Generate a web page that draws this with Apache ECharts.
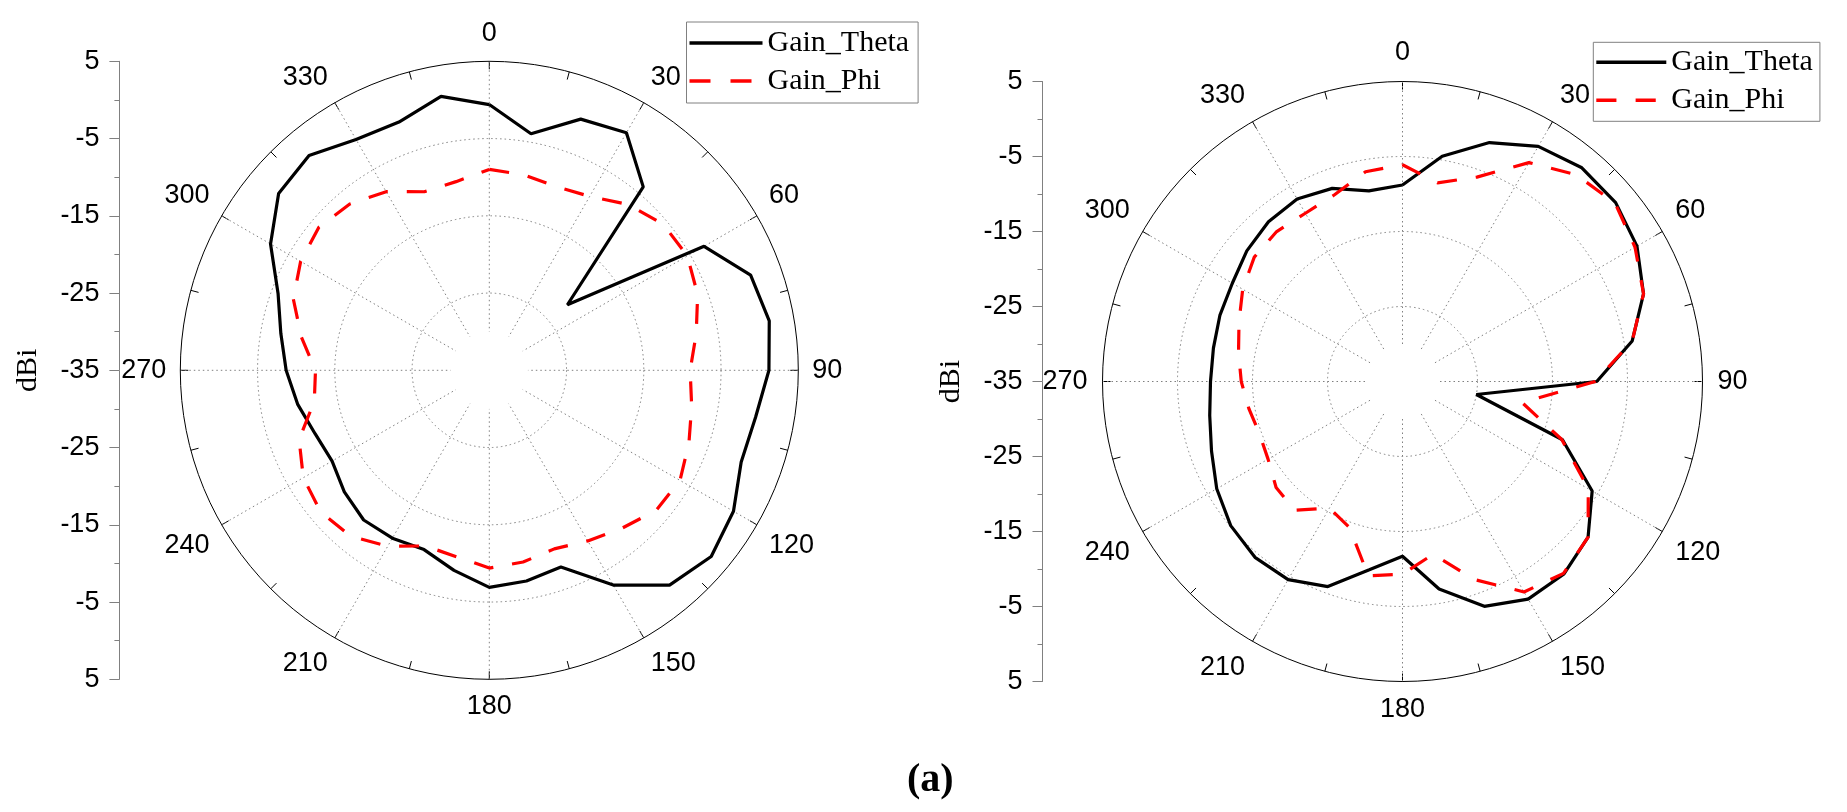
<!DOCTYPE html>
<html>
<head>
<meta charset="utf-8">
<script src="https://cdn.jsdelivr.net/npm/echarts@6/dist/echarts.min.js"></script>
<style>
html,body{margin:0;padding:0;background:#fff;}
#chart{width:1847px;height:812px;}
</style>
</head>
<body>
<div id="chart"></div>
<script>
// ---------- data ----------
const angles = [0,10,20,30,40,50,60,70,80,90,100,110,120,130,140,150,160,170,
                180,190,200,210,220,230,240,250,260,270,280,290,300,310,320,330,340,350];

const leftTheta = [-0.6,-3.9,-0.4,0.5,-4.0,-21.8,-2.9,1.0,1.8,1.2,0.0,-0.3,1.5,2.5,1.3,-2.9,-7.9,-7.3,
                   -6.9,-8.7,-10.3,-9.9,-9.7,-10.5,-11.5,-11.0,-9.8,-8.7,-7.6,-5.9,-2.3,0.6,1.3,-0.5,-0.8,1.0];
const leftPhi   = [-9.0,-9.3,-9.7,-9.0,-7.0,-5.6,-5.4,-6.3,-7.8,-9.0,-8.4,-7.5,-6.5,-6.8,-8.3,-9.5,-10.4,-9.8,
                   -9.4,-10.5,-10.8,-8.7,-7.0,-6.5,-7.2,-8.8,-12.0,-12.5,-10.3,-8.0,-6.8,-6.2,-6.9,-8.3,-10.4,-10.2];
const rightTheta = [-8.8,-4.5,-1.1,1.2,2.2,2.1,1.1,-0.8,-3.9,-9.1,-25.0,-12.3,-5.8,-2.7,-1.5,-1.5,-3.1,-6.9,
                    -11.7,-9.5,-5.9,-4.5,-4.4,-5.1,-6.4,-7.9,-8.9,-9.4,-9.4,-9.1,-8.8,-7.9,-7.2,-6.9,-7.6,-9.2];
const rightPhi   = [-6.1,-8.1,-6.0,-1.3,1.0,2.0,0.8,-0.8,-3.9,-9.3,-18.8,-12.4,-6.4,-2.7,-1.6,-2.6,-6.9,-11.6,
                    -9.3,-8.7,-14.3,-15.5,-12.6,-13.0,-14.3,-14.7,-14.2,-13.5,-12.8,-11.8,-10.4,-9.2,-8.9,-9.1,-8.5,-6.6];

const angleTickLabels = ['0','30','60','90','120','150','180','210','240','270','300','330'];
const dbiTickLabels = ['5','-5','-15','-25','-35','-25','-15','-5','5'];
const seriesNames = ['Gain_Theta','Gain_Phi'];
const axisName = 'dBi';
const panelLetter = 'a';

// ---------- styling / layout ----------
const SANS = "'Liberation Sans', Arial, sans-serif";
const SERIF = "'Liberation Serif', 'Times New Roman', serif";
const GRIDC = '#808080';
const dotted = {color: GRIDC, width: 1, type: [1.5, 3]};

const panels = [
  {cx: 489.3, cy: 370.3, R: 309, labelMargin: 14, axisX: 119.4, theta: leftTheta, phi: leftPhi,
   legend: {left: 686.5, top: 22, itemWidth: 73, padding: [6, 9, 7, 3]}},
  {cx: 1402.5, cy: 381.5, R: 300, labelMargin: 15, axisX: 1042.5, theta: rightTheta, phi: rightPhi,
   legend: {left: 1593.3, top: 42.3, itemWidth: 70, padding: [5, 7, 6, 3]}}
];

const solidIcon = 'path://M0,0H73V3.6H0Z';
const dashIcon = 'path://M0,0H21V3.6H0Z M41,0H62V3.6H41Z M72.95,0H73V0.05H72.95Z';

function closedLoop(vals) {
  const d = vals.map((v, i) => [v, angles[i]]);
  d.push([vals[0], 360]);
  return d;
}

const option = {
  animation: false,
  backgroundColor: '#ffffff',
  title: {
    text: '{p|(}{b|' + panelLetter + '}{p|)}',
    left: 902, top: 754,
    textStyle: {
      rich: {
        p: {fontFamily: SERIF, fontSize: 40, color: '#000', lineHeight: 44},
        b: {fontFamily: SERIF, fontSize: 40, fontWeight: 'bold', color: '#000', lineHeight: 44}
      }
    }
  },
  polar: [], angleAxis: [], radiusAxis: [],
  grid: [], xAxis: [], yAxis: [], legend: [], series: []
};

panels.forEach((p, k) => {
  const base = option.polar.length;
  // A: data + outer axis
  option.polar.push({center: [p.cx, p.cy], radius: [0, p.R]});
  // B: spokes (start away from the centre)
  option.polar.push({center: [p.cx, p.cy], radius: [p.R / 8, p.R]});
  // C: rings
  option.polar.push({center: [p.cx, p.cy], radius: [0, p.R * 0.75]});

  option.angleAxis.push({
    polarIndex: base, type: 'value', min: 0, max: 360, interval: 30, startAngle: 90, clockwise: true,
    axisLine: {show: true, lineStyle: {color: '#000', width: 1}},
    axisTick: {show: true, inside: true, length: 8, lineStyle: {color: '#000', width: 1}},
    minorTick: {show: true, splitNumber: 2, length: 8, lineStyle: {color: '#000', width: 1}},
    axisLabel: {show: true, margin: p.labelMargin, color: '#000', fontFamily: SANS, fontSize: 27,
      formatter: v => (angleTickLabels[Math.round(v / 30)] !== undefined && v < 360 ? angleTickLabels[Math.round(v / 30)] : '')},
    splitLine: {show: false}, minorSplitLine: {show: false}
  });
  option.angleAxis.push({
    polarIndex: base + 1, type: 'value', min: 0, max: 360, interval: 30, startAngle: 90, clockwise: true,
    axisLine: {show: false}, axisTick: {show: false}, axisLabel: {show: false},
    splitLine: {show: true, lineStyle: dotted}
  });
  option.angleAxis.push({
    polarIndex: base + 2, type: 'value', min: 0, max: 360, startAngle: 90, clockwise: true,
    axisLine: {show: false}, axisTick: {show: false}, axisLabel: {show: false}, splitLine: {show: false}
  });

  option.radiusAxis.push({
    polarIndex: base, type: 'value', min: -35, max: 5,
    axisLine: {show: false}, axisTick: {show: false}, axisLabel: {show: false}, splitLine: {show: false}
  });
  option.radiusAxis.push({
    polarIndex: base + 1, type: 'value', min: 0, max: 35,
    axisLine: {show: false}, axisTick: {show: false}, axisLabel: {show: false}, splitLine: {show: false}
  });
  option.radiusAxis.push({
    polarIndex: base + 2, type: 'value', min: 0, max: 30, interval: 10,
    axisLine: {show: false}, axisTick: {show: false}, axisLabel: {show: false},
    splitLine: {show: true, lineStyle: dotted}
  });

  // left linear dBi scale
  option.grid.push({left: p.axisX, top: p.cy - p.R, width: 1, height: 2 * p.R});
  option.xAxis.push({gridIndex: k, type: 'value', min: 0, max: 1, show: false});
  option.yAxis.push({
    gridIndex: k, type: 'value', min: 0, max: 8, interval: 1, inverse: true, position: 'left',
    axisLine: {show: true, onZero: false, lineStyle: {color: GRIDC, width: 1}},
    axisTick: {show: true, length: 10, lineStyle: {color: GRIDC, width: 1}},
    minorTick: {show: true, splitNumber: 2, length: 5, lineStyle: {color: GRIDC, width: 1}},
    splitLine: {show: false}, minorSplitLine: {show: false},
    axisLabel: {margin: 20, color: '#000', fontFamily: SANS, fontSize: 27,
      formatter: v => dbiTickLabels[Math.round(v)]},
    name: axisName, nameLocation: 'middle', nameRotate: 90, nameGap: 76,
    nameTextStyle: {fontFamily: SERIF, fontSize: 30, color: '#000'}
  });

  option.legend.push(Object.assign({
    orient: 'vertical', itemHeight: 30, itemGap: 8, selectedMode: false,
    backgroundColor: '#fff', borderColor: GRIDC, borderWidth: 1, borderRadius: 0,
    textStyle: {fontFamily: SERIF, fontSize: 30, color: '#000', lineHeight: 30},
    data: [{name: seriesNames[0], icon: solidIcon}, {name: seriesNames[1], icon: dashIcon}]
  }, p.legend));

  option.series.push({
    type: 'line', name: seriesNames[0], coordinateSystem: 'polar', polarIndex: base,
    data: closedLoop(p.theta), symbol: 'none', smooth: false,
    itemStyle: {color: '#000'}, lineStyle: {color: '#000', width: 3.2}
  });
  option.series.push({
    type: 'line', name: seriesNames[1], coordinateSystem: 'polar', polarIndex: base,
    data: closedLoop(p.phi), symbol: 'none', smooth: false,
    itemStyle: {color: '#ff0000'}, lineStyle: {color: '#ff0000', width: 3.2, type: [20, 19]}
  });
});

const chart = echarts.init(document.getElementById('chart'), null, {renderer: 'canvas'});
chart.setOption(option);
</script>
</body>
</html>
